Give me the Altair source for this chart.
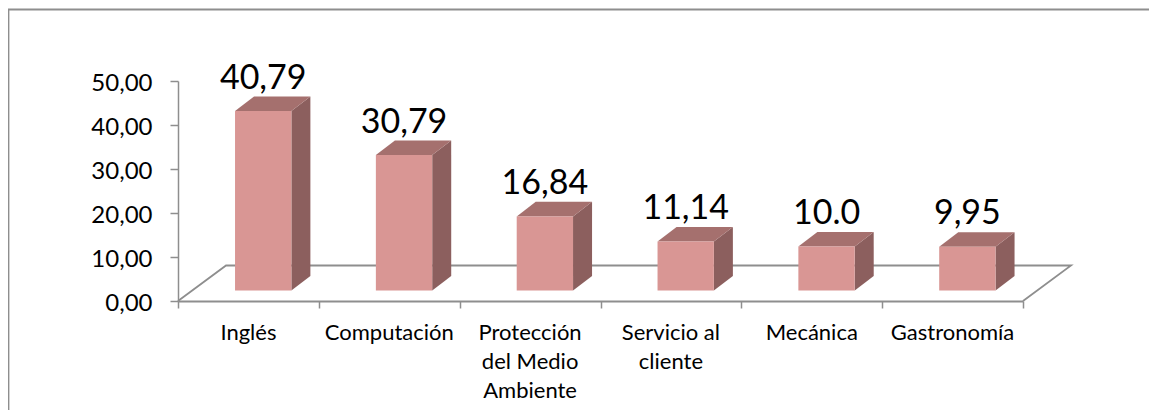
import altair as alt
import pandas as pd

categories = ["Inglés", "Computación", "Protección del Medio Ambiente", "Servicio al cliente", "Mecánica", "Gastronomía"]
category_lines = [["Inglés"], ["Computación"], ["Protección", "del Medio", "Ambiente"], ["Servicio al", "cliente"], ["Mecánica"], ["Gastronomía"]]
values = [40.79, 30.79, 16.84, 11.14, 10.0, 9.95]
value_labels = ["40,79", "30,79", "16,84", "11,14", "10.0", "9,95"]

BAR_START, BAR_END = 0.405, 0.805   # bar edges within a category slot
DX, DY = 0.135, 3.3                 # depth of a bar, in axis units
BASE = 2.39                         # bar foot above the axis origin
FLOOR_DX, FLOOR_DY = 0.341, 8.07    # depth of the floor
FONT = "Lato"
GRAY = "#8E8E8E"

front, side, top, text, cats = [], [], [], [], []
for i, (c, v, lab, ln) in enumerate(zip(categories, values, value_labels, category_lines)):
    x0, x1 = i + BAR_START, i + BAR_END
    front.append({"c": c, "x": x0, "x2": x1, "y": BASE, "y2": BASE + v})
    side.append({"c": c, "x": x1, "y": BASE, "y2": BASE + v})
    side.append({"c": c, "x": x1 + DX, "y": BASE + DY, "y2": BASE + DY + v})
    top.append({"c": c, "x": x0, "x2": x1, "y": BASE + v})
    top.append({"c": c, "x": x0 + DX, "x2": x1 + DX, "y": BASE + DY + v})
    text.append({"x": (x0 + x1) / 2, "y": BASE + v + DY + 1.8, "t": lab})
    cats.append({"x": i + 0.5, "y": -4.9, "t": ln})

floor_pts = [(0, 0), (FLOOR_DX, FLOOR_DY), (6 + FLOOR_DX, FLOOR_DY), (6, 0)]
floor = pd.DataFrame([{"o": k, "x": p[0], "y": p[1]} for k, p in enumerate(floor_pts)])

xs = alt.Scale(domain=[0, 6], nice=False, zero=False)
ys = alt.Scale(domain=[0, 50], nice=False)
X = alt.X("x:Q", scale=xs, axis=alt.Axis(values=list(range(7)), labels=False, title=None, grid=False,
                                          tickSize=7, tickColor=GRAY, tickWidth=1.5, domainColor=GRAY, domainWidth=1.8))
Y = alt.Y("y:Q", scale=ys, axis=alt.Axis(values=list(range(0, 51, 10)), title=None, grid=False,
                                          labelExpr="replace(format(datum.value,'.2f'),'.',',')",
                                          labelFont=FONT, labelFontSize=24, labelColor="black", labelPadding=18, labelOffset=2,
                                          tickSize=8, tickColor=GRAY, tickWidth=1.5, domainColor=GRAY, domainWidth=1.5))

floor_layer = alt.Chart(floor).mark_line(color=GRAY, strokeWidth=1.8, clip=False).encode(x=X, y=Y, order="o:Q")
front_layer = alt.Chart(pd.DataFrame(front)).mark_rect(color="#D99694", clip=False).encode(
    x=X, x2="x2:Q", y=Y, y2="y2:Q")
side_layer = alt.Chart(pd.DataFrame(side)).mark_area(color="#8C5F5E", clip=False).encode(
    x=X, y=Y, y2="y2:Q", detail="c:N")
top_layer = alt.Chart(pd.DataFrame(top)).mark_area(color="#A5706E", orient="horizontal", clip=False).encode(
    y=Y, x=X, x2="x2:Q", detail="c:N")
text_layer = alt.Chart(pd.DataFrame(text)).mark_text(font=FONT, fontSize=34, color="black", baseline="alphabetic", align="center").encode(
    x=X, y=Y, text="t:N")
cat_layer = alt.Chart(pd.DataFrame(cats)).mark_text(font=FONT, fontSize=22, color="black", baseline="top", align="center", lineHeight=29).encode(
    x=X, y=Y, text=alt.Text("t"))

border_top = alt.Chart(pd.DataFrame({"a": [0]})).mark_rule(color=GRAY, strokeWidth=1.8).encode(
    x=alt.value(-170), x2=alt.value(971), y=alt.value(-71.5))
border_left = alt.Chart(pd.DataFrame({"a": [0]})).mark_rule(color=GRAY, strokeWidth=1.8).encode(
    x=alt.value(-169.5), y=alt.value(-71.5), y2=alt.value(329))

chart = alt.layer(border_top, border_left, floor_layer, side_layer, top_layer, front_layer, text_layer, cat_layer).properties(
    width=845, height=220,
    padding={"left": 170, "top": 73, "right": 126, "bottom": 109},
    autosize=alt.AutoSizeParams(type="none"),
    background="white",
).configure_view(stroke=None)

chart.save("out.html", embed_options={"renderer": "svg", "actions": False})
